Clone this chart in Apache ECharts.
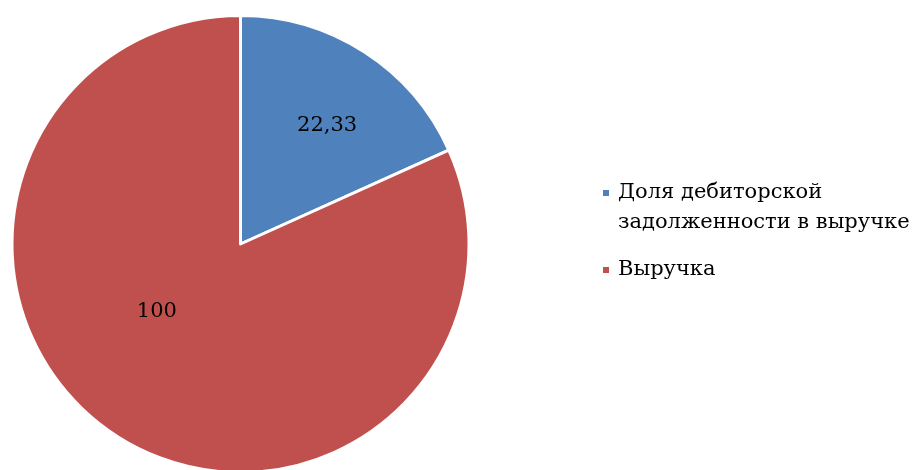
<!DOCTYPE html>
<html><head><meta charset="utf-8">
<script src="https://cdn.jsdelivr.net/npm/echarts@6/dist/echarts.min.js"></script>
<style>html,body{margin:0;padding:0;background:#fff}#c{width:914px;height:470px}</style>
</head><body><div id="c"></div>
<script>
const categories = ['Доля дебиторской задолженности в выручке', 'Выручка'];
const values = [22.33, 100];
const valueLabels = ['22,33', '100'];
const colors = ['#4F81BD', '#C0504D'];
const legendLabels = {'Доля дебиторской задолженности в выручке': '\nДоля дебиторской\nзадолженности в выручке', 'Выручка': 'Выручка'};
const FONT = 'DejaVu Serif';
const chart = echarts.init(document.getElementById('c'));
chart.setOption({
  animation: false,
  legend: {
    orient: 'vertical', left: 601, top: 148,
    icon: 'rect', itemWidth: 8, itemHeight: 8, itemGap: 17, padding: 0,
    textStyle: {fontFamily: FONT, fontSize: 21, color: '#000', lineHeight: 30, padding: [0, 0, 0, 3]},
    formatter: n => legendLabels[n],
    data: categories
  },
  series: [{
    type: 'pie', center: [240.5, 244], radius: 228.5, startAngle: 90, clockwise: true,
    itemStyle: {borderColor: '#fff', borderWidth: 3},
    label: {position: 'inside', fontFamily: FONT, fontSize: 21, color: '#000'},
    emphasis: {disabled: true},
    data: categories.map((c, i) => ({
      name: c, value: values[i], itemStyle: {color: colors[i]},
      label: {formatter: valueLabels[i], offset: i === 0 ? [23, -20] : [-20, -31]}
    }))
  }]
});
</script></body></html>
